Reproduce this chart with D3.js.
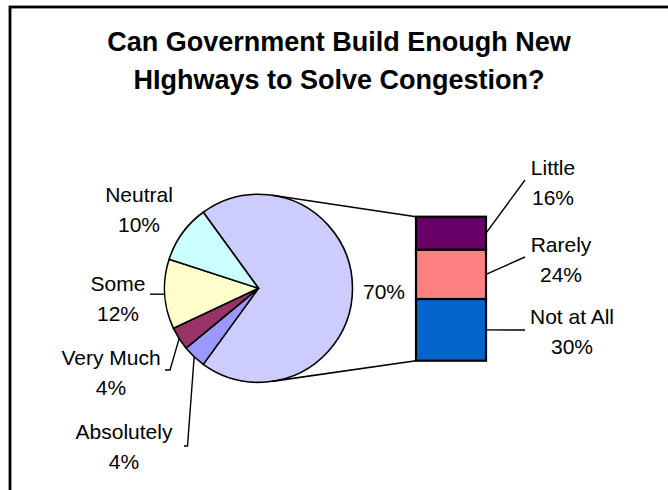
<!DOCTYPE html>
<html>
<head>
<meta charset="utf-8">
<script src="https://cdn.jsdelivr.net/npm/d3@7"></script>
<style>
  html, body { margin: 0; padding: 0; background: #fff; }
  svg { display: block; }
  text { font-family: "Liberation Sans", Arial, sans-serif; fill: #000; }
</style>
</head>
<body>
<svg id="chart" width="668" height="490"></svg>
<script>
// Survey answers shown in the pie itself
const pieLabels = ["Absolutely", "Very Much", "Some", "Neutral"];
const pieValues = [4, 4, 12, 10];
const pieColors = ["#9999FF", "#993366", "#FFFFCC", "#CCFFFF"];

// Answers broken out into the stacked bar (bottom to top)
const barLabels = ["Not at All", "Rarely", "Little"];
const barValues = [30, 24, 16];
const barColors = ["#0066CC", "#FF8080", "#660066"];

const otherColor = "#CCCCFF";
const titleLines = ["Can Government Build Enough New", "HIghways to Solve Congestion?"];

// Label placement: centre x, first-line baseline, and leader start near the text
const pieLabelSpots = {
  "Neutral":    { x: 139, y: 201.5, leader: null },
  "Some":       { x: 118, y: 290.5, leader: [[150, null]] },
  "Very Much":  { x: 111, y: 365,   leader: [[165, 370], [170, 370]] },
  "Absolutely": { x: 124, y: 438.5, leader: [[184, 446], [187.5, 446]] }
};
const barLabelSpots = {
  "Little":     { x: 553, y: 175,   end: [525, 180] },
  "Rarely":     { x: 561, y: 251.5, end: [525, 257] },
  "Not at All": { x: 572, y: 324,   end: [525, 330] }
};

const svg = d3.select("#chart");
const fontSize = 21, lineGap = 30;

// Chart frame (runs off the right and bottom edges)
svg.append("rect")
  .attr("x", 10).attr("y", 7).attr("width", 720).attr("height", 520)
  .attr("fill", "none").attr("stroke", "#000").attr("stroke-width", 2.8);

// Title
svg.append("g").selectAll("text").data(titleLines).join("text")
  .attr("x", 339)
  .attr("y", (d, i) => 50.5 + i * 38.7)
  .attr("text-anchor", "middle")
  .attr("font-size", 27).attr("font-weight", "bold")
  .text(d => d);

// ---- Pie ----
const cx = 258.5, cy = 288.3, r = 94;
const otherTotal = d3.sum(barValues);
const total = otherTotal + d3.sum(pieValues);
const share = otherTotal / total;
const start = Math.PI / 2 - Math.PI * share; // centre the combined slice at 3 o'clock

const slices = [{ name: "Other", value: otherTotal, color: otherColor }]
  .concat(pieLabels.map((n, i) => ({ name: n, value: pieValues[i], color: pieColors[i] })));

const pie = d3.pie().sort(null).value(d => d.value)
  .startAngle(start).endAngle(start + 2 * Math.PI);
const arcs = pie(slices);
const arc = d3.arc().innerRadius(0).outerRadius(r);

const pg = svg.append("g").attr("transform", `translate(${cx},${cy})`);
pg.selectAll("path").data(arcs).join("path")
  .attr("d", arc)
  .attr("fill", d => d.data.color)
  .attr("stroke", "#000").attr("stroke-width", 1.6)
  .attr("stroke-linejoin", "round");

const edgePoint = a => {
  const m = (a.startAngle + a.endAngle) / 2;
  return [cx + r * Math.sin(m), cy - r * Math.cos(m)];
};

// ---- Stacked bar ----
const barX = 416, barW = 70;
const barTop = 216.7, barBottom = 360.7;
const y = d3.scaleLinear().domain([0, otherTotal]).range([barBottom, barTop]);
const stacked = [];
let acc = 0;
barLabels.forEach((n, i) => {
  stacked.push({ name: n, value: barValues[i], color: barColors[i], y0: acc, y1: acc + barValues[i] });
  acc += barValues[i];
});

// Connector lines: tangents from the bar's left corners to the pie circle
function tangent(px, py, upper) {
  const dx = px - cx, dy = py - cy;
  const d = Math.hypot(dx, dy);
  const th = Math.atan2(dy, dx);
  const al = Math.acos(r / d);
  const t = upper ? th - al : th + al;
  return [cx + r * Math.cos(t), cy + r * Math.sin(t)];
}
const cTop = tangent(barX, y(otherTotal), true);
const cBot = tangent(barX, y(0), false);
svg.append("line").attr("x1", cTop[0]).attr("y1", cTop[1]).attr("x2", barX).attr("y2", y(otherTotal))
  .attr("stroke", "#000").attr("stroke-width", 1.6);
svg.append("line").attr("x1", cBot[0]).attr("y1", cBot[1]).attr("x2", barX).attr("y2", y(0))
  .attr("stroke", "#000").attr("stroke-width", 1.6);

svg.append("g").selectAll("rect").data(stacked).join("rect")
  .attr("x", barX).attr("width", barW)
  .attr("y", d => y(d.y1)).attr("height", d => y(d.y0) - y(d.y1))
  .attr("fill", d => d.color)
  .attr("stroke", "#000").attr("stroke-width", 2.2);

// ---- Labels ----
const fmt = v => Math.round(v / total * 100) + "%";
const lg = svg.append("g").attr("font-size", fontSize);
const twoLine = (x, yb, a, b) => {
  const t = lg.append("text").attr("text-anchor", "middle").attr("font-size", fontSize);
  t.append("tspan").attr("x", x).attr("y", yb).text(a);
  t.append("tspan").attr("x", x).attr("y", yb + lineGap).text(b);
};
const leaderLine = d3.line();

arcs.forEach(a => {
  if (a.data.name === "Other") {
    lg.append("text").attr("x", 384).attr("y", 299.3).attr("text-anchor", "middle")
      .attr("font-size", fontSize).text(fmt(a.data.value));
    return;
  }
  const spot = pieLabelSpots[a.data.name];
  twoLine(spot.x, spot.y, a.data.name, fmt(a.data.value));
  if (spot.leader) {
    const p = edgePoint(a);
    const pts = spot.leader.map(q => [q[0], q[1] === null ? p[1] : q[1]]).concat([p]);
    svg.append("path").attr("d", leaderLine(pts))
      .attr("fill", "none").attr("stroke", "#000").attr("stroke-width", 1.4);
  }
});

stacked.forEach(s => {
  const spot = barLabelSpots[s.name];
  twoLine(spot.x, spot.y, s.name, fmt(s.value));
  const ym = (y(s.y0) + y(s.y1)) / 2;
  svg.append("path").attr("d", leaderLine([[barX + barW, ym], spot.end]))
    .attr("fill", "none").attr("stroke", "#000").attr("stroke-width", 1.4);
});
</script>
</body>
</html>
